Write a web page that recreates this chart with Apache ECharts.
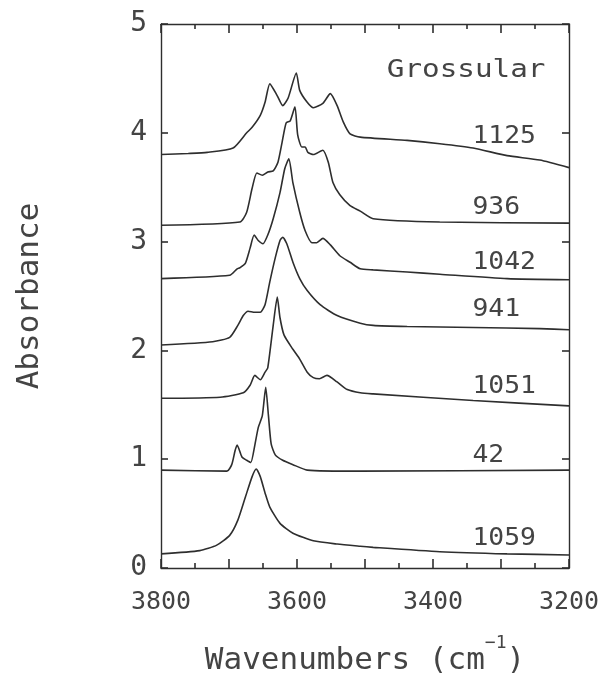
<!DOCTYPE html>
<html><head><meta charset="utf-8">
<script src="https://cdn.jsdelivr.net/npm/echarts@6/dist/echarts.min.js"></script>
<style>html,body{margin:0;padding:0;background:#fff}#c{width:615px;height:675px}</style>
</head><body><div id="c"></div>
<script>
// ---- data (wavenumber cm^-1, absorbance) ----
const wn1125 = [3800,3760,3732,3694,3674,3666,3654,3647,3640,3629,3621,3613,3601,3596,3585,3576,3562,3551,3541,3532,3522,3507,3438,3390,3341,3291,3243,3200];
const ab1125 = [3.80,3.81,3.82,3.86,4.00,4.05,4.16,4.28,4.45,4.34,4.25,4.32,4.55,4.39,4.28,4.23,4.27,4.36,4.25,4.10,3.99,3.96,3.93,3.90,3.86,3.79,3.75,3.68];

const wn936 = [3800,3684,3674,3666,3659,3651,3643,3635,3628,3622,3616,3610,3603,3599,3593,3588,3584,3576,3562,3554,3547,3537,3522,3507,3488,3390,3200];
const ab936 = [3.15,3.18,3.27,3.49,3.63,3.61,3.64,3.65,3.73,3.91,4.09,4.11,4.24,3.98,3.87,3.87,3.82,3.80,3.84,3.73,3.54,3.43,3.33,3.28,3.21,3.18,3.17];

const wn1042 = [3800,3699,3688,3684,3676,3669,3663,3657,3650,3643,3635,3625,3618,3612,3606,3596,3588,3578,3571,3562,3551,3537,3522,3507,3488,3438,3390,3291,3200];
const ab1042 = [2.66,2.69,2.75,2.76,2.80,2.94,3.06,3.01,2.98,3.06,3.21,3.45,3.67,3.76,3.54,3.27,3.10,2.99,2.99,3.03,2.97,2.87,2.81,2.75,2.74,2.72,2.70,2.66,2.65];

const wn941 = [3800,3724,3699,3687,3679,3672,3662,3654,3647,3640,3632,3625,3621,3615,3606,3596,3585,3566,3541,3507,3488,3438,3341,3243,3200];
const ab941 = [2.05,2.08,2.12,2.23,2.32,2.36,2.35,2.35,2.42,2.63,2.85,3.01,3.04,2.98,2.81,2.66,2.55,2.42,2.32,2.25,2.23,2.22,2.21,2.20,2.19];

const wn1051 = [3800,3713,3679,3669,3662,3654,3647,3643,3635,3629,3625,3619,3606,3596,3585,3576,3567,3556,3541,3526,3507,3488,3341,3200];
const ab1051 = [1.56,1.57,1.61,1.68,1.77,1.73,1.80,1.84,2.23,2.49,2.30,2.14,2.01,1.92,1.80,1.75,1.74,1.77,1.71,1.64,1.61,1.60,1.54,1.49];

const wn42 = [3800,3703,3696,3691,3688,3681,3674,3668,3662,3657,3651,3646,3642,3638,3632,3621,3606,3585,3507,3200];
const ab42 = [0.90,0.89,0.95,1.08,1.13,1.02,0.99,0.97,1.13,1.29,1.40,1.66,1.40,1.14,1.04,0.99,0.95,0.90,0.89,0.90];

const wn1059 = [3800,3743,3718,3699,3687,3676,3666,3660,3654,3647,3640,3625,3606,3576,3541,3507,3488,3390,3291,3200];
const ab1059 = [0.13,0.16,0.21,0.30,0.44,0.65,0.84,0.91,0.84,0.69,0.56,0.41,0.32,0.25,0.22,0.20,0.19,0.15,0.13,0.12];

const sampleNames = ['1125','936','1042','941','1051','42','1059'];
const xTickLabels = ['3800','3600','3400','3200'];
const yTickLabels = ['0','1','2','3','4','5'];

// ---- label anchors (data coordinates) ----
const labelWn = 3342;
const labelAbs = [3.96,3.31,2.81,2.37,1.67,1.03,0.27];
const titleWn = 3468, titleAbs = 4.57;

const FONT = '"DejaVu Sans Mono", monospace';
const INK = '#2e2e2e';
const TXT = '#444444';

const seriesWn = [wn1125, wn936, wn1042, wn941, wn1051, wn42, wn1059];
const seriesAb = [ab1125, ab936, ab1042, ab941, ab1051, ab42, ab1059];

function pairs(xs, ys){ return xs.map((x,i)=>[x, ys[i]]); }

const chart = echarts.init(document.getElementById('c'), null, {renderer:'canvas'});

function xAx(pos, showLabel){
  return {
    type:'value', min:3200, max:3800, interval:100, inverse:true, position:pos,
    axisLine:{show:true, onZero:false, lineStyle:{color:INK, width:1.4}},
    axisTick:{show:true, inside:true, length:9, lineStyle:{color:INK, width:1.6}},
    minorTick:{show:true, splitNumber:2, length:5, lineStyle:{color:INK, width:1.6}},
    splitLine:{show:false}, minorSplitLine:{show:false},
    axisLabel:{show:showLabel, fontFamily:FONT, fontSize:25, color:TXT, margin:22,
      formatter: v => xTickLabels.indexOf(String(v)) >= 0 ? String(v) : ''},
  };
}
function yAx(pos, showLabel){
  return {
    type:'value', min:0, max:5, interval:1, position:pos,
    axisLine:{show:true, onZero:false, lineStyle:{color:INK, width:1.4}},
    axisTick:{show:true, inside:true, length:7, lineStyle:{color:INK, width:1.6}},
    splitLine:{show:false},
    axisLabel:{show:showLabel, fontFamily:FONT, fontSize:28, color:TXT, margin:14,
      formatter: v => yTickLabels[v] || ''},
  };
}

const xBottom = xAx('bottom', true);
xBottom.name = '{a|Wavenumbers (cm}{s|−1}{a|)}';
xBottom.nameLocation = 'middle';
xBottom.nameGap = 66;
xBottom.nameTextStyle = {
  rich:{
    a:{fontFamily:FONT, fontSize:31, color:TXT, verticalAlign:'bottom', lineHeight:42},
    s:{fontFamily:FONT, fontSize:18, color:TXT, verticalAlign:'top', lineHeight:18}
  }
};
const yLeft = yAx('left', true);
yLeft.name = 'Absorbance';
yLeft.nameLocation = 'middle';
yLeft.nameGap = 116;
yLeft.nameTextStyle = {fontFamily:FONT, fontSize:31, color:TXT};

const option = {
  animation:false,
  backgroundColor:'#ffffff',
  grid:{left:161, right:46, top:24, bottom:107, containLabel:false, outerBoundsMode:'none'},
  xAxis:[xBottom, xAx('top', false)],
  yAxis:[yLeft, yAx('right', false)],
  series: sampleNames.map((n,i)=>({
    name:n, type:'line', xAxisIndex:0, yAxisIndex:0,
    data:pairs(seriesWn[i], seriesAb[i]),
    showSymbol:false, smooth:0.2,
    lineStyle:{color:INK, width:1.6}
  }))
};
chart.setOption(option);

const g = [];
sampleNames.forEach((n,i)=>{
  const p = chart.convertToPixel({xAxisIndex:0, yAxisIndex:0}, [labelWn, labelAbs[i]]);
  g.push({type:'text', x:p[0], y:p[1], scaleX:1.1,
    style:{text:n, fontFamily:FONT, fontSize:24, fill:TXT, align:'left', verticalAlign:'middle'}});
});
const tp = chart.convertToPixel({xAxisIndex:0, yAxisIndex:0}, [titleWn, titleAbs]);
g.push({type:'text', x:tp[0], y:tp[1], scaleX:1.22,
  style:{text:'Grossular', fontFamily:FONT, fontSize:24, fill:TXT, align:'left', verticalAlign:'middle'}});
chart.setOption({graphic:g});
</script></body></html>
